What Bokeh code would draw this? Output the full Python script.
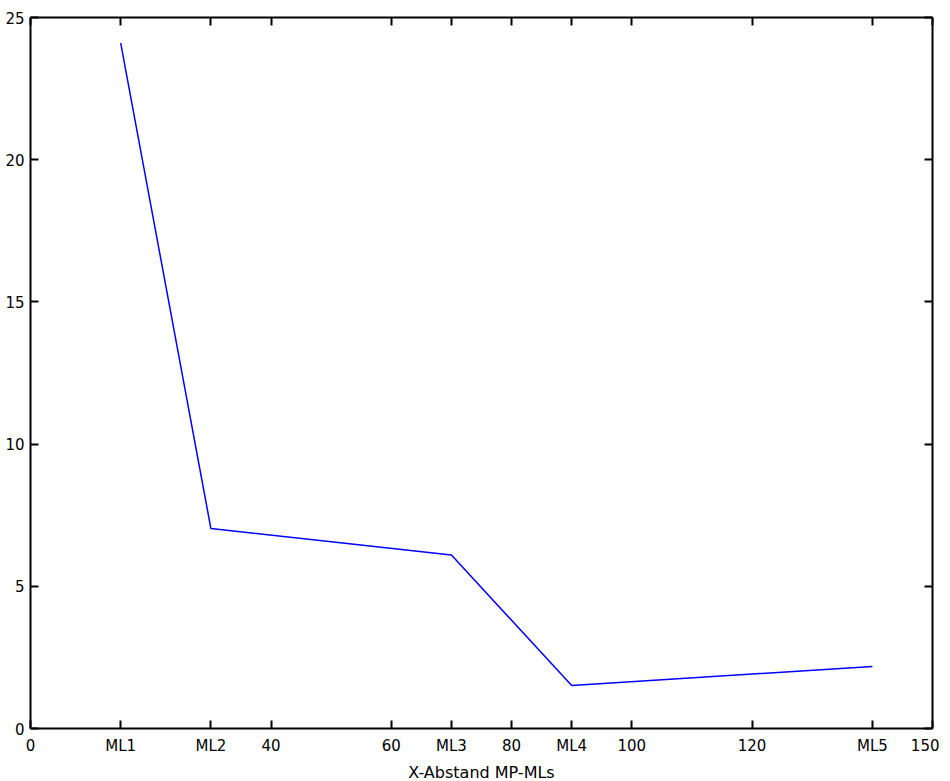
from bokeh.plotting import figure
from bokeh.models import FixedTicker, LinearAxis, Range1d
from bokeh.embed import file_html
from bokeh.resources import INLINE

# Data
positions = [15, 30, 70, 90, 140]
values = [24.1, 7.03, 6.1, 1.51, 2.18]
ml_labels = ["ML1", "ML2", "ML3", "ML4", "ML5"]
x_ticks = [0, 15, 30, 40, 60, 70, 80, 90, 100, 120, 140, 150]
y_ticks = [0, 5, 10, 15, 20, 25]
x_label = "X-Abstand MP-MLs"

FONT = "DejaVu Sans"
FS = "15px"

p = figure(frame_width=902, frame_height=711,
           x_range=Range1d(0, 150), y_range=Range1d(0, 25),
           output_backend="svg", toolbar_location=None,
           min_border_left=30, min_border_top=17, min_border_right=7,
           min_border_bottom=45)
p.grid.visible = False
p.outline_line_color = None
p.background_fill_color = "white"
p.border_fill_color = "white"

overrides = {pos: lab for pos, lab in zip(positions, ml_labels)}

def style(ax, labels=True):
    ax.axis_line_color = "black"
    ax.axis_line_width = 2
    ax.major_tick_line_color = "black"
    ax.major_tick_line_width = 2
    ax.major_tick_in = 8
    ax.major_tick_out = 0
    ax.minor_tick_line_color = None
    ax.major_label_text_font = FONT
    ax.major_label_text_font_size = FS
    ax.major_label_text_color = "black"
    if not labels:
        ax.major_label_text_alpha = 0
        ax.major_label_text_font_size = "1px"

xa = p.xaxis[0]
xa.ticker = FixedTicker(ticks=x_ticks)
xa.major_label_overrides = overrides
xa.axis_label = x_label
xa.axis_label_text_font = FONT
xa.axis_label_text_font_size = "16px"
xa.axis_label_text_font_style = "normal"
xa.axis_label_text_color = "black"
xa.axis_label_standoff = 5
xa.major_label_standoff = 8
style(xa)

ya = p.yaxis[0]
ya.ticker = FixedTicker(ticks=y_ticks)
ya.major_label_standoff = 6
style(ya)

top = LinearAxis(ticker=FixedTicker(ticks=x_ticks))
style(top, labels=False)
p.add_layout(top, "above")
right = LinearAxis(ticker=FixedTicker(ticks=y_ticks))
style(right, labels=False)
p.add_layout(right, "right")

p.line(positions, values, line_color="#0000FF", line_width=1.5)

open("out.html", "w").write(file_html(p, INLINE))
